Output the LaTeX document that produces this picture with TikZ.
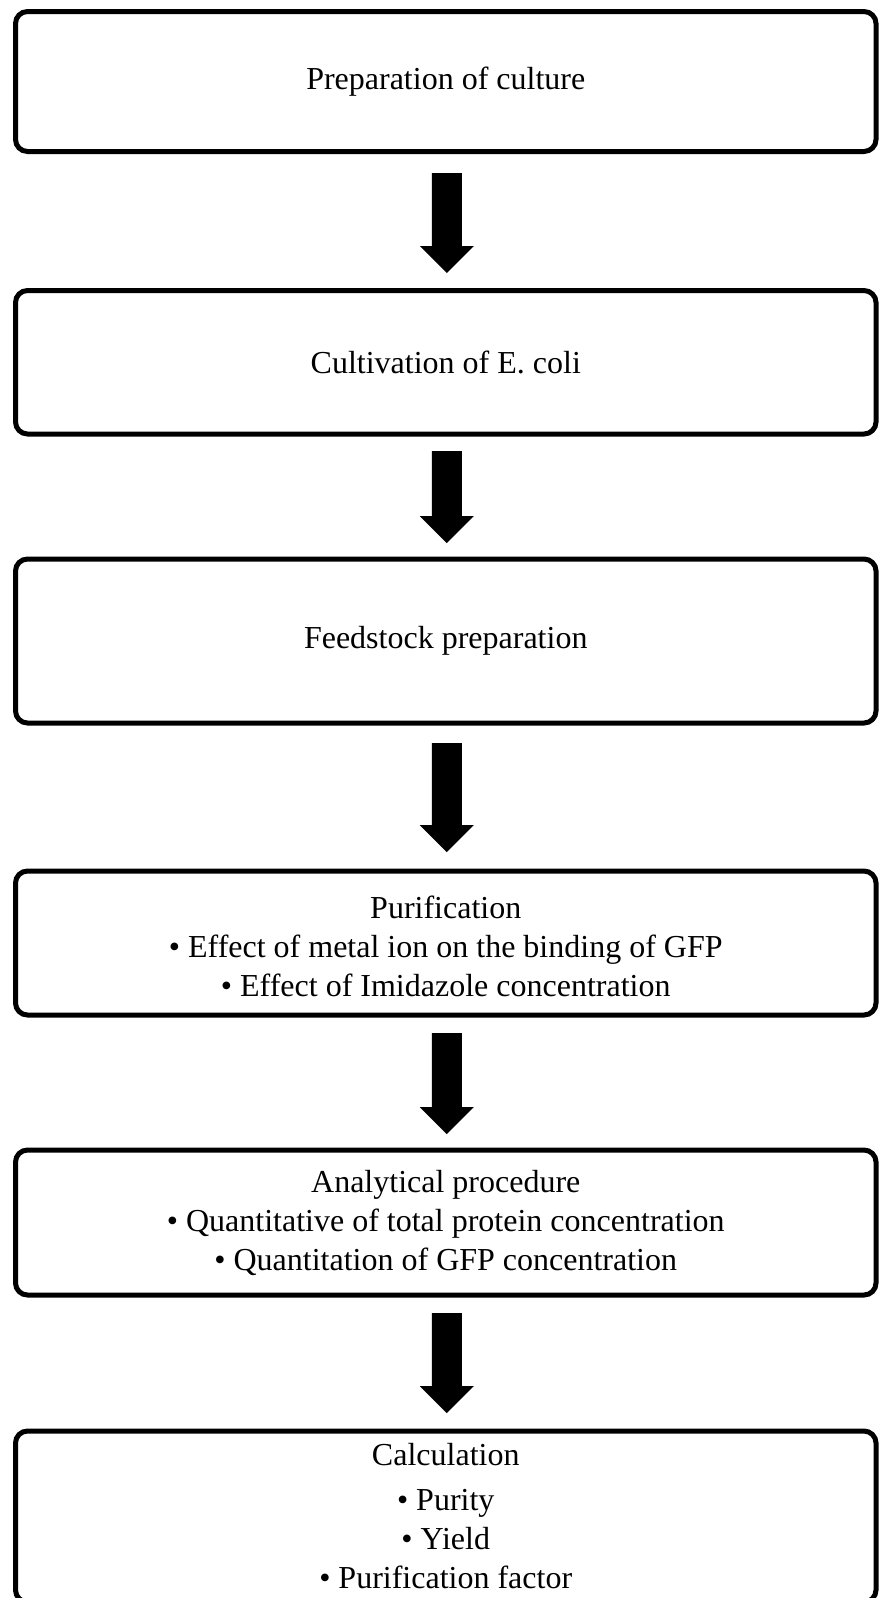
\documentclass[tikz,border=0pt]{standalone}
\usepackage{fontspec}
\setmainfont{Liberation Serif}
\usetikzlibrary{calc}
\tikzset{
  stage/.style={draw=black, line width=5pt, rounded corners=12pt,
    minimum width=860.5pt, inner sep=0pt, outer sep=0pt, align=center,
    font=\fontsize{32}{39}\selectfont, fill=white},
  fatarrow/.style={fill=black, draw=none},
}
% #1 from node, #2 to node, #3 gap below #1, #4 gap above #2
\newcommand\flowarrow[4]{%
  \path let \p1=($(#1.south)+(1pt,-#3pt)$), \p2=($(#2.north)+(1pt,#4pt)$) in
    [fatarrow] (\x1-15pt,\y1) -- (\x1+15pt,\y1) -- (\x1+15pt,\y2+27pt)
    -- (\x1+27pt,\y2+27pt) -- (\x1,\y2) -- (\x1-27pt,\y2+27pt)
    -- (\x1-15pt,\y2+27pt) -- cycle;}
\begin{document}
\begin{tikzpicture}[x=1pt,y=-1pt]
\useasboundingbox (0,0) rectangle (880,1598);
\node[stage, minimum height=140pt]   (b1) at (445.75,81.5)   {Preparation of culture};
\node[stage, minimum height=143.5pt] (b2) at (445.75,362.25) {Cultivation of E. coli};
\node[stage, minimum height=164pt]   (b3) at (445.75,641)    {Feedstock preparation};
\node[stage, minimum height=144pt]   (b4) at (445.75,943)    {\rule{0pt}{30pt}Purification\\• Effect of metal ion on the binding of GFP\\• Effect of Imidazole concentration};
\node[stage, minimum height=145pt]   (b5) at (445.75,1222.5) {Analytical procedure\\• Quantitative of total protein concentration\\• Quantitation of GFP concentration};
\node[stage, minimum height=171pt]   (b6) at (445.75,1516.5) {Calculation\\[6pt]• Purity\\• Yield\\• Purification factor};
\flowarrow{b1}{b2}{21.5}{17.5}
\flowarrow{b2}{b3}{17}{16}
\flowarrow{b3}{b4}{20}{19}
\flowarrow{b4}{b5}{18}{16}
\flowarrow{b5}{b6}{18}{18}
\end{tikzpicture}
\end{document}
